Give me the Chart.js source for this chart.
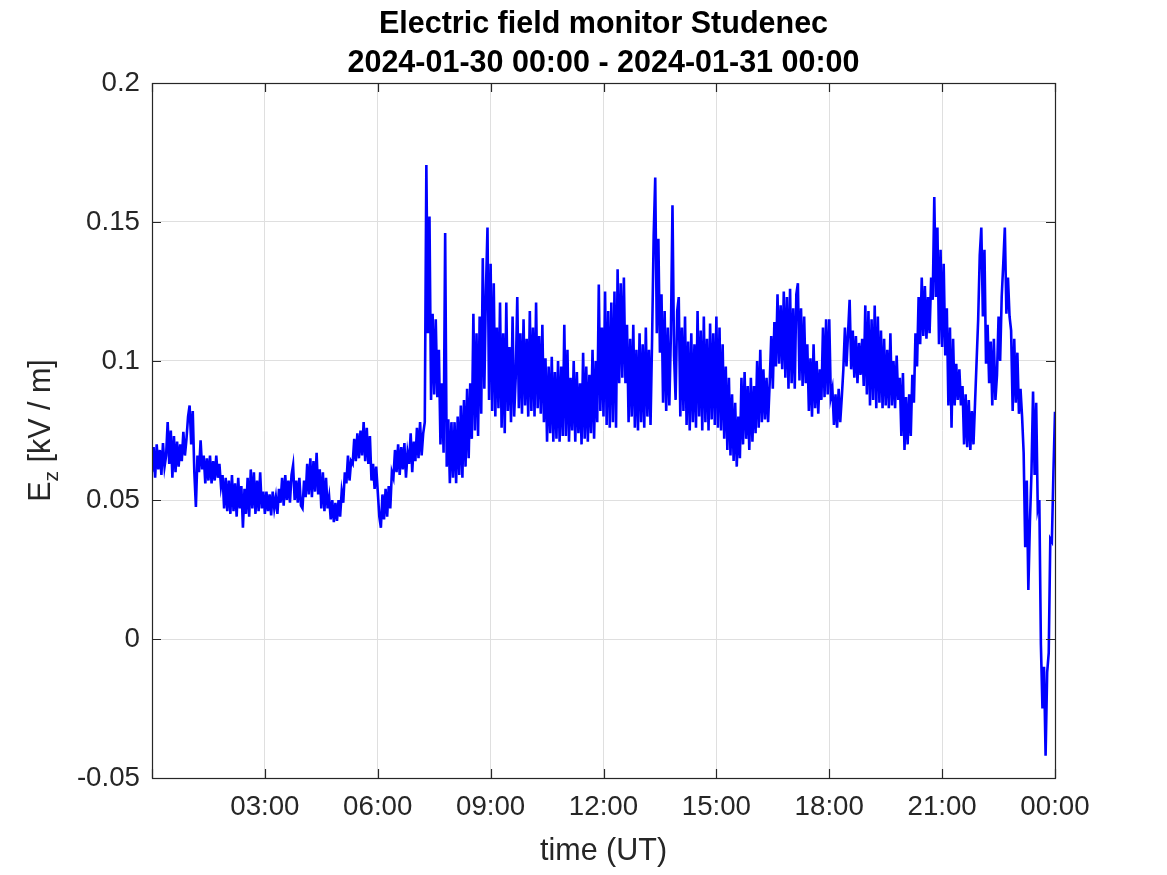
<!DOCTYPE html>
<html>
<head>
<meta charset="utf-8">
<script src="https://cdn.jsdelivr.net/npm/chart.js@4.4.1/dist/chart.umd.min.js"></script>
<style>
  html, body { margin: 0; padding: 0; background: #ffffff; }
  #wrap { width: 1167px; height: 875px; }
</style>
</head>
<body>
<div id="wrap"><canvas id="c" width="1167" height="875"></canvas></div>
<script>
// ---- data ----
const titleLines = ['Electric field monitor Studenec', '2024-01-30 00:00 - 2024-01-31 00:00'];
const xAxisTitle = 'time (UT)';
const yAxisMain = 'E';
const yAxisSub = 'z';
const yAxisRest = ' [kV / m]';
const sampleMinutes = 2.5; // spacing of the samples below, starting 2024-01-30 00:00
const xTickLabels = ['', '03:00', '06:00', '09:00', '12:00', '15:00', '18:00', '21:00', '00:00'];
const yTickLabels = ['-0.05', '0', '0.05', '0.1', '0.15', '0.2'];
// Ez in kV/m, one row per hour (24 samples each)
const ezValues = [
  0.060,0.069,0.058,0.070,0.061,0.068,0.059,0.0705,0.062,0.066,0.078,0.063,0.075,0.058,0.073,0.060,0.071,0.062,0.070,0.064,0.0745,0.066,0.072,0.080,
  0.084,0.070,0.082,0.060,0.0475,0.066,0.060,0.0715,0.061,0.066,0.056,0.065,0.057,0.066,0.056,0.064,0.057,0.066,0.058,0.063,0.055,0.059,0.047,0.058,
  0.046,0.057,0.045,0.059,0.046,0.056,0.044,0.058,0.047,0.055,0.040,0.054,0.045,0.058,0.044,0.061,0.047,0.060,0.045,0.057,0.046,0.060,0.047,0.053,
  0.045,0.053,0.046,0.052,0.0445,0.053,0.047,0.051,0.045,0.054,0.049,0.058,0.048,0.059,0.050,0.057,0.049,0.059,0.0625,0.050,0.057,0.049,0.058,0.048,
  0.047,0.057,0.051,0.063,0.052,0.065,0.051,0.064,0.053,0.067,0.052,0.061,0.047,0.060,0.046,0.058,0.047,0.051,0.043,0.050,0.042,0.049,0.0425,0.050,
  0.044,0.053,0.049,0.060,0.056,0.066,0.057,0.064,0.063,0.072,0.064,0.074,0.065,0.075,0.066,0.078,0.064,0.076,0.063,0.073,0.057,0.063,0.054,0.062,
  0.053,0.044,0.040,0.052,0.043,0.054,0.044,0.055,0.047,0.060,0.058,0.068,0.060,0.070,0.059,0.069,0.061,0.0705,0.058,0.067,0.063,0.074,0.060,0.071,
  0.064,0.076,0.065,0.078,0.066,0.074,0.078,0.1705,0.110,0.152,0.086,0.117,0.088,0.115,0.087,0.104,0.070,0.092,0.067,0.146,0.062,0.079,0.056,0.078,
  0.058,0.078,0.056,0.080,0.059,0.084,0.058,0.086,0.062,0.090,0.065,0.092,0.072,0.117,0.075,0.110,0.073,0.116,0.081,0.137,0.090,0.125,0.148,0.086,
  0.135,0.082,0.128,0.080,0.112,0.083,0.121,0.076,0.110,0.074,0.121,0.082,0.105,0.078,0.116,0.080,0.094,0.123,0.083,0.110,0.081,0.115,0.084,0.108,
  0.080,0.118,0.082,0.112,0.080,0.121,0.083,0.109,0.081,0.113,0.078,0.101,0.071,0.098,0.074,0.1015,0.071,0.096,0.072,0.100,0.071,0.098,0.073,0.113,
  0.073,0.104,0.071,0.094,0.075,0.100,0.071,0.096,0.074,0.092,0.070,0.103,0.072,0.098,0.071,0.095,0.074,0.104,0.072,0.100,0.078,0.1275,0.082,0.112,
  0.080,0.125,0.077,0.118,0.076,0.121,0.078,0.125,0.076,0.133,0.092,0.128,0.094,0.130,0.092,0.113,0.078,0.108,0.080,0.113,0.076,0.104,0.075,0.110,
  0.078,0.106,0.076,0.112,0.080,0.104,0.077,0.108,0.145,0.166,0.110,0.144,0.103,0.124,0.085,0.118,0.082,0.112,0.084,0.110,0.156,0.102,0.086,0.118,
  0.123,0.080,0.112,0.082,0.116,0.077,0.107,0.075,0.110,0.078,0.106,0.076,0.118,0.080,0.111,0.075,0.116,0.078,0.108,0.075,0.1135,0.079,0.110,0.077,
  0.116,0.076,0.112,0.075,0.106,0.072,0.098,0.068,0.094,0.066,0.088,0.064,0.085,0.062,0.080,0.065,0.094,0.070,0.096,0.072,0.091,0.068,0.094,0.071,
  0.091,0.074,0.100,0.076,0.104,0.078,0.097,0.079,0.094,0.078,0.092,0.109,0.090,0.114,0.098,0.124,0.099,0.120,0.097,0.125,0.094,0.123,0.090,0.126,
  0.092,0.119,0.090,0.124,0.128,0.093,0.119,0.091,0.116,0.092,0.106,0.082,0.101,0.080,0.106,0.083,0.100,0.081,0.097,0.086,0.112,0.087,0.115,0.088,
  0.115,0.087,0.090,0.077,0.088,0.076,0.090,0.078,0.087,0.097,0.112,0.098,0.110,0.122,0.097,0.111,0.094,0.109,0.092,0.1065,0.095,0.108,0.091,0.120,
  0.088,0.118,0.084,0.115,0.086,0.120,0.083,0.116,0.085,0.111,0.083,0.108,0.084,0.104,0.083,0.110,0.084,0.100,0.083,0.102,0.086,0.094,0.073,0.0957,
  0.068,0.087,0.070,0.088,0.073,0.095,0.085,0.110,0.098,0.123,0.106,0.130,0.109,0.127,0.108,0.123,0.110,0.130,0.122,0.159,0.123,0.148,0.106,0.140,
  0.105,0.135,0.102,0.119,0.084,0.112,0.076,0.108,0.084,0.099,0.086,0.097,0.084,0.091,0.070,0.088,0.069,0.086,0.068,0.082,0.070,0.085,0.100,0.115,
  0.138,0.148,0.116,0.140,0.099,0.113,0.092,0.107,0.084,0.108,0.086,0.095,0.116,0.100,0.123,0.135,0.148,0.117,0.130,0.116,0.111,0.082,0.108,0.085,
  0.103,0.081,0.090,0.080,0.067,0.033,0.057,0.0176,0.042,0.060,0.089,0.059,0.085,0.047,0.050,-0.002,-0.025,-0.010,-0.042,-0.012,-0.005,0.036,0.035,0.060,
  0.0817
];

// ---- chart ----
const FONT = "'Liberation Sans', Arial, Helvetica, sans-serif";
const AXIS_COLOR = '#262626';
const points = ezValues.map((v, i) => ({ x: i * sampleMinutes / 60, y: v }));

const boxAndTicks = {
  id: 'boxAndTicks',
  afterLayout(chart) {
    // centre the title over the plot area, as in the reference
    if (chart.titleBlock) {
      chart.titleBlock.left = chart.chartArea.left;
      chart.titleBlock.right = chart.chartArea.right;
    }
  },
  afterDraw(chart) {
    const { ctx, chartArea: a, scales: { x, y } } = chart;
    ctx.save();
    ctx.strokeStyle = AXIS_COLOR;
    ctx.lineWidth = 1.2;
    const L = 9;
    ctx.beginPath();
    x.ticks.forEach(t => {
      const px = Math.round(x.getPixelForValue(t.value)) + 0.5;
      ctx.moveTo(px, a.bottom); ctx.lineTo(px, a.bottom - L);
      ctx.moveTo(px, a.top); ctx.lineTo(px, a.top + L);
    });
    y.ticks.forEach(t => {
      const py = Math.round(y.getPixelForValue(t.value)) + 0.5;
      ctx.moveTo(a.left, py); ctx.lineTo(a.left + L, py);
      ctx.moveTo(a.right, py); ctx.lineTo(a.right - L, py);
    });
    ctx.stroke();
    ctx.strokeRect(Math.round(a.left) + 0.5, Math.round(a.top) + 0.5,
                   Math.round(a.right - a.left), Math.round(a.bottom - a.top));
    // y axis title with subscript
    const cy = (a.top + a.bottom) / 2;
    ctx.translate(50, cy);
    ctx.rotate(-Math.PI / 2);
    ctx.fillStyle = AXIS_COLOR;
    ctx.textBaseline = 'alphabetic';
    const big = '30.5px ' + FONT, small = '21px ' + FONT;
    ctx.font = big; const w1 = ctx.measureText(yAxisMain).width;
    ctx.font = small; const w2 = ctx.measureText(yAxisSub).width;
    ctx.font = big; const w3 = ctx.measureText(yAxisRest).width;
    let sx = -(w1 + w2 + w3) / 2;
    ctx.font = big; ctx.fillText(yAxisMain, sx, 0); sx += w1;
    ctx.font = small; ctx.fillText(yAxisSub, sx, 8); sx += w2;
    ctx.font = big; ctx.fillText(yAxisRest, sx, 0);
    ctx.restore();
  }
};

new Chart(document.getElementById('c'), {
  type: 'line',
  data: {
    datasets: [{
      label: 'Ez',
      data: points,
      borderColor: '#0000ff',
      borderWidth: 2.6,
      pointRadius: 0,
      tension: 0,
      fill: false
    }]
  },
  options: {
    responsive: false,
    animation: false,
    devicePixelRatio: 1,
    layout: { padding: { left: 0, right: 112, top: 0, bottom: 0 } },
    plugins: {
      legend: { display: false },
      tooltip: { enabled: false },
      title: {
        display: true,
        text: titleLines,
        color: '#000000',
        font: { family: FONT, size: 30.5, weight: 'bold', lineHeight: '39px' },
        padding: { top: 5, bottom: 0 }
      }
    },
    scales: {
      x: {
        type: 'linear',
        min: 0, max: 24,
        afterFit(s) { s.height = 97; },
        ticks: {
          stepSize: 3,
          autoSkip: false,
          maxRotation: 0,
          padding: 13,
          color: AXIS_COLOR,
          font: { family: FONT, size: 27.7 },
          callback: (v, i) => xTickLabels[i]
        },
        grid: { color: '#dfdfdf', lineWidth: 1, drawTicks: false },
        border: { display: false },
        title: {
          display: true,
          text: xAxisTitle,
          color: AXIS_COLOR,
          font: { family: FONT, size: 30.5 },
          padding: { top: 0, bottom: 5 }
        }
      },
      y: {
        type: 'linear',
        min: -0.05, max: 0.2,
        afterFit(s) { s.width = 152; },
        ticks: {
          stepSize: 0.05,
          padding: 12,
          color: AXIS_COLOR,
          font: { family: FONT, size: 27.7 },
          callback: (v, i) => yTickLabels[i]
        },
        grid: { color: '#dfdfdf', lineWidth: 1, drawTicks: false },
        border: { display: false }
      }
    }
  },
  plugins: [boxAndTicks]
});
</script>
</body>
</html>
